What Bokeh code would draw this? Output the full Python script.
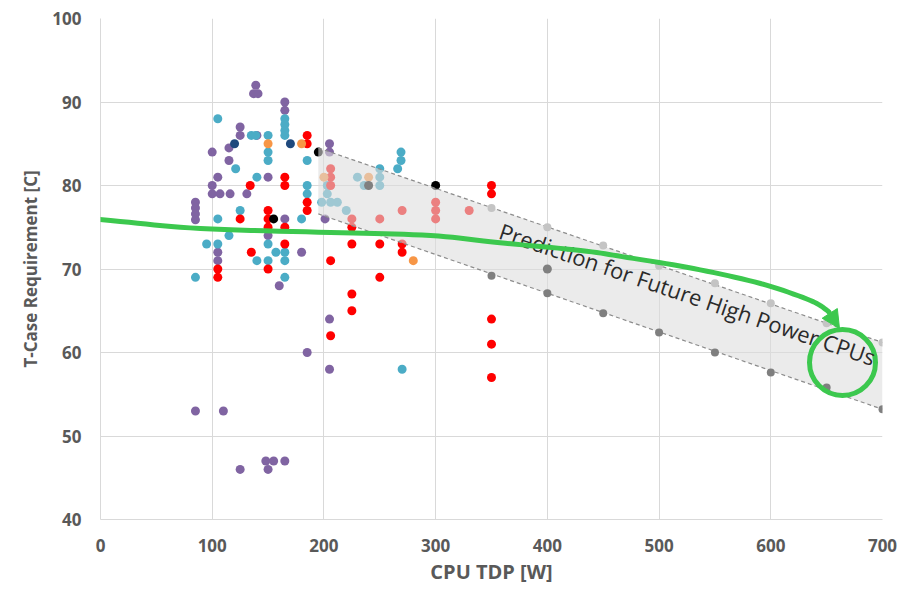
import math
import numpy as np
from bokeh.plotting import figure
from bokeh.models import Range1d, FixedTicker, Label, PolyAnnotation, Arrow, NormalHead
from bokeh.embed import file_html
from bokeh.resources import INLINE

# ---------------- data ----------------
X_TICKS = [0, 100, 200, 300, 400, 500, 600, 700]
Y_TICKS = [40, 50, 60, 70, 80, 90, 100]

PURPLE_X = [85, 85, 85, 85, 85, 100, 100, 100, 105, 107, 105, 105, 110, 115, 115, 116,
            125, 125, 125, 131, 137, 139, 141, 140, 150, 150, 148, 155, 150, 160,
            165, 165, 165, 165, 180, 185, 201, 205, 205, 205, 205]
PURPLE_Y = [78, 77.3, 76.6, 75.9, 53, 84, 80, 79, 81, 79, 72, 71, 53, 84.5, 83, 79,
            87, 86, 46, 79, 91, 92, 91, 86, 81, 74, 47, 47, 46, 68,
            90, 89, 76, 47, 72, 60, 76, 85, 84, 64, 58]

TEAL_X = [85, 95, 105, 105, 105, 115, 121, 125, 135, 139, 150, 150, 150, 140, 150, 150,
          157, 140, 165, 165, 165, 165, 165, 165, 165, 180, 185, 185, 185, 198, 206, 212,
          220, 230, 236, 250, 250, 250, 266, 269, 269, 270, 203, 203]
TEAL_Y = [69, 73, 88, 76, 73, 74, 82, 77, 86, 86, 86, 84, 83, 81, 73, 71,
          72, 71, 88, 87.3, 86.6, 86, 72, 71, 69, 76, 83, 80, 79, 78, 78, 78,
          77, 81, 80, 82, 81, 80, 82, 84, 83, 58, 80, 79]

RED_X = [105, 105, 125, 134, 135, 150, 150, 150, 150, 165, 165, 165, 165, 185, 185, 185, 185,
         206, 206, 206, 206, 206, 225, 225, 225, 225, 225, 250, 250, 250, 270, 270, 270,
         300, 300, 300, 330, 350, 350, 350, 350, 350]
RED_Y = [70, 69, 76, 80, 72, 77, 76, 75, 70, 81, 80, 75, 73, 86, 85, 78, 77,
         82, 81, 80, 71, 62, 76, 75, 73, 67, 65, 76, 73, 69, 77, 73, 72,
         78, 77, 76, 77, 80, 79, 64, 61, 57]

ORANGE_X = [150, 180, 200, 240, 280]
ORANGE_Y = [85, 85, 81, 81, 71]

NAVY_X = [120, 170]
NAVY_Y = [85, 85]

BLACK_X = [155, 300, 195, 240, 400]
BLACK_Y = [76, 80, 84, 80, 70]

# prediction band
BAND_EDGE_X = [195, 700]
BAND_TOP = [84.5, 61.2]
BAND_BOTTOM = [76.6, 53.2]
BAND_X = [350, 400, 450, 500, 550, 600, 650, 700]
BAND_UPPER = [77.3, 75.0, 72.8, 70.4, 68.3, 65.9, 63.5, 61.2]
BAND_LOWER = [69.2, 67.1, 64.7, 62.4, 60.0, 57.6, 55.8, 53.2]

BAND_TEXT = "Prediction for Future High Power CPUs"
X_TITLE = "CPU TDP [W]"
Y_TITLE = "T-Case Requirement [C]"

# hand-drawn green arrow path (data units)
ARROW_PATH_X = [-89.5, 8.95, 89.5, 205.9, 295.4, 355.4, 429.7, 471.7, 530.8, 590.8, 635.5, 651.7]
ARROW_PATH_Y = [77.13, 75.81, 74.85, 74.37, 74.01, 73.17, 72.22, 71.38, 70.06, 68.26, 66.23, 64.91]
ARROW_TIP = (661.5, 62.87)
CIRCLE_CENTER = (664.2, 58.8)

# ---------------- styles ----------------
PURPLE = "#8064a2"
TEAL = "#4bacc6"
RED = "#ff0000"
ORANGE = "#f79646"
NAVY = "#1f497d"
BLACK = "#000000"
GREEN = "#3cc84e"
GRID = "#d9d9d9"
AXIS_TEXT = "#595959"
FONT = "Open Sans"

p = figure(width=910, height=588, x_range=Range1d(0, 700), y_range=Range1d(40, 100),
           output_backend="svg", toolbar_location=None,
           min_border_left=100, min_border_right=28, min_border_top=18, min_border_bottom=69)
p.outline_line_color = None
p.background_fill_color = "white"
p.border_fill_color = "white"

p.xaxis.ticker = FixedTicker(ticks=X_TICKS)
p.yaxis.ticker = FixedTicker(ticks=Y_TICKS)
for ax in (p.xaxis, p.yaxis):
    ax.major_tick_line_color = None
    ax.minor_tick_line_color = None
    ax.major_tick_out = 0
    ax.major_tick_in = 0
    ax.axis_line_color = GRID
    ax.major_label_text_font = FONT
    ax.major_label_text_font_style = "bold"
    ax.major_label_text_font_size = "17px"
    ax.major_label_text_color = AXIS_TEXT
    ax.axis_label_text_font = FONT
    ax.axis_label_text_font_style = "bold"
    ax.axis_label_text_color = AXIS_TEXT
p.xaxis.axis_label = X_TITLE
p.yaxis.axis_label = Y_TITLE
p.xaxis.axis_label_text_font_size = "20px"
p.yaxis.axis_label_text_font_size = "17px"
p.xaxis.major_label_standoff = 19
p.xaxis.axis_label_standoff = 3
p.yaxis.major_label_standoff = 19
p.yaxis.axis_label_standoff = 7
p.xgrid.grid_line_color = GRID
p.ygrid.grid_line_color = GRID

def pts(xs, ys, color):
    assert len(xs) == len(ys)
    p.scatter(xs, ys, size=9, fill_color=color, line_color=None)

pts(PURPLE_X, PURPLE_Y, PURPLE)
pts(TEAL_X, TEAL_Y, TEAL)
pts(RED_X, RED_Y, RED)
pts(ORANGE_X, ORANGE_Y, ORANGE)
pts(NAVY_X, NAVY_Y, NAVY)
pts(BLACK_X, BLACK_Y, BLACK)

# translucent band over the points
band_xs = BAND_EDGE_X + BAND_EDGE_X[::-1]
band_ys = BAND_TOP + BAND_BOTTOM[::-1]
p.patch(band_xs, band_ys, fill_color="#dcdcdc", fill_alpha=0.58, line_color=None)
p.line(BAND_EDGE_X, BAND_TOP, line_color="#8c8c8c", line_width=1.2, line_dash="4 3")
p.line(BAND_EDGE_X, BAND_BOTTOM, line_color="#8c8c8c", line_width=1.2, line_dash="4 3")
p.scatter(BAND_X, BAND_UPPER, size=8, fill_color="#c4c4c4", line_color=None)
p.scatter(BAND_X, BAND_LOWER, size=8, fill_color="#7f7f7f", line_color=None)

p.add_layout(Label(x=357.9, y=74.7, text=BAND_TEXT, angle=-0.329,
                   text_font=FONT, text_font_size="22px", text_color="#2b2b2b",
                   text_align="left", text_baseline="alphabetic"))

# green arrow (smoothed Catmull-Rom through hand-drawn path)
def catmull(xs, ys, n=10):
    P = list(zip(xs, ys))
    ox, oy = [], []
    for i in range(len(P) - 1):
        p0 = P[max(i - 1, 0)]; p1 = P[i]; p2 = P[i + 1]; p3 = P[min(i + 2, len(P) - 1)]
        for t in np.linspace(0, 1, n, endpoint=False):
            t2, t3 = t * t, t * t * t
            for k, o in ((0, ox), (1, oy)):
                o.append(0.5 * ((2 * p1[k]) + (-p0[k] + p2[k]) * t +
                                (2 * p0[k] - 5 * p1[k] + 4 * p2[k] - p3[k]) * t2 +
                                (-p0[k] + 3 * p1[k] - 3 * p2[k] + p3[k]) * t3))
    ox.append(P[-1][0]); oy.append(P[-1][1])
    return ox, oy

cx, cy = catmull(ARROW_PATH_X, ARROW_PATH_Y)
p.add_layout(PolyAnnotation(xs=cx + cx[::-1], ys=cy + cy[::-1], fill_alpha=0,
                            line_color=GREEN, line_alpha=1.0, line_width=5,
                            line_join="round"))
p.add_layout(Arrow(end=NormalHead(size=18, fill_color=GREEN, line_color=GREEN),
                   x_start=ARROW_PATH_X[-1], y_start=ARROW_PATH_Y[-1],
                   x_end=ARROW_TIP[0], y_end=ARROW_TIP[1],
                   line_color=GREEN, line_width=5))
p.scatter([CIRCLE_CENTER[0]], [CIRCLE_CENTER[1]], size=66, fill_alpha=0,
          line_color=GREEN, line_width=5)

open("out.html", "w").write(file_html(p, INLINE))
